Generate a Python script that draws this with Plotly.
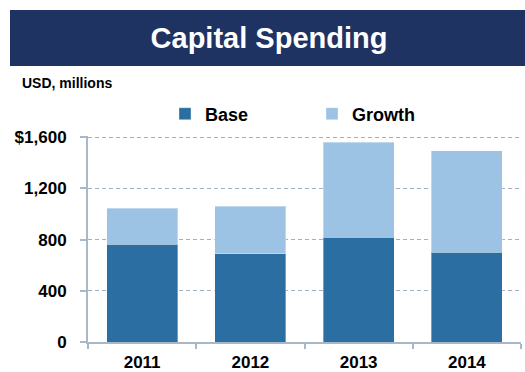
import plotly.graph_objects as go

# Capital spending by year, USD millions
years = ["2011", "2012", "2013", "2014"]
base = [765, 690, 820, 700]
growth = [280, 370, 740, 795]

y_tick_vals = [0, 400, 800, 1200, 1600]
y_tick_text = ["0", "400", "800", "1,200", "$1,600"]

BASE_COLOR = "#2B6EA1"
GROWTH_COLOR = "#9CC3E4"
AXIS_COLOR = "#A8B8C8"
GRID_COLOR = "#A3B0BE"
NAVY = "#1F3363"
FONT = "Liberation Sans, Arial, sans-serif"

W, H = 525, 372
L, R, T, B = 88, 4, 136, 30
plot_w = W - L - R
plot_h = H - T - B


def px_x(px):
    """Convert a pixel x position to paper coordinates."""
    return (px - L) / plot_w


def px_y(py):
    """Convert a pixel y position (from top) to paper coordinates."""
    return (H - B - py) / plot_h


fig = go.Figure()
fig.add_trace(go.Bar(
    x=years, y=base, name="Base",
    marker=dict(color=BASE_COLOR, line=dict(color="rgba(255,255,255,0.35)", width=1)),
))
fig.add_trace(go.Bar(
    x=years, y=growth, name="Growth",
    marker=dict(color=GROWTH_COLOR, line=dict(color="rgba(255,255,255,0.35)", width=1)),
))

fig.update_layout(
    width=W, height=H,
    margin=dict(l=L, r=R, t=T, b=B, pad=0),
    barmode="stack",
    bargap=0.345,
    plot_bgcolor="white",
    paper_bgcolor="white",
    font=dict(family=FONT, color="black", weight="bold"),
    title=dict(
        text="Capital Spending",
        font=dict(family=FONT, size=29, color="white", weight="bold"),
        x=269 / W, xanchor="center",
        y=1 - 38 / H, yanchor="middle",
        xref="container", yref="container",
    ),
    legend=dict(
        orientation="h",
        x=px_x(165), xanchor="left",
        y=px_y(114), yanchor="middle",
        traceorder="normal",
        entrywidth=102, entrywidthmode="pixels",
        font=dict(family=FONT, size=18, color="black", weight="bold"),
        bgcolor="rgba(0,0,0,0)",
    ),
    xaxis=dict(
        type="category",
        automargin=False,
        showline=True, linecolor=AXIS_COLOR, linewidth=2,
        ticks="outside", tickson="boundaries", ticklen=5,
        tickcolor=AXIS_COLOR, tickwidth=2,
        showgrid=False,
        tickfont=dict(family=FONT, size=17, color="black", weight="bold"),
        ticklabelstandoff=4,
    ),
    yaxis=dict(
        range=[0, 1610],
        automargin=False,
        tickvals=y_tick_vals, ticktext=y_tick_text,
        showline=True, linecolor=AXIS_COLOR, linewidth=2,
        ticks="outside", ticklen=6, tickcolor=AXIS_COLOR, tickwidth=2,
        showgrid=True, gridcolor=GRID_COLOR, gridwidth=1, griddash="4px,3px",
        zeroline=False,
        tickfont=dict(family=FONT, size=17, color="black", weight="bold"),
        ticklabelstandoff=10,
    ),
    shapes=[dict(
        type="rect", xref="paper", yref="paper",
        x0=px_x(10), x1=px_x(W + 5), y0=px_y(66), y1=px_y(10),
        fillcolor=NAVY, line=dict(width=0), layer="below",
    )],
    annotations=[dict(
        text="USD, millions",
        xref="paper", yref="paper",
        x=px_x(20), xanchor="left",
        y=px_y(83), yanchor="middle",
        showarrow=False,
        font=dict(family=FONT, size=14, color="black", weight="bold"),
    )],
)

fig.write_html("out.html")
